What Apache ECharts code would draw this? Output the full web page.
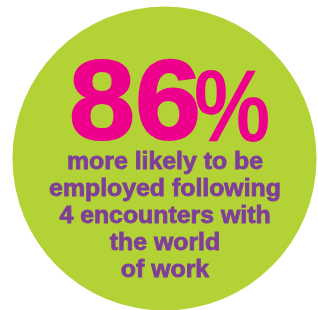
<!DOCTYPE html>
<html>
<head>
<meta charset="utf-8">
<script src="https://cdn.jsdelivr.net/npm/echarts@6/dist/echarts.min.js"></script>
<style>
html,body{margin:0;padding:0;background:#fff;}
#c{width:318px;height:310px;}
</style>
</head>
<body>
<div id="c"></div>
<script>
// Data
var statValue = '86';
var statUnit = '%';
var captionLines = ['more likely to be', 'employed following', '4 encounters with', 'the world', 'of work'];
var circleData = [{ name: 'stat', value: 86 }];

var lime = '#b2d235';
var magenta = '#ec008c';
var purple = '#7f3f98';
var font = '"Liberation Sans", Arial, sans-serif';

var chart = echarts.init(document.getElementById('c'), null, { renderer: 'canvas' });

var graphics = [
  {
    type: 'text', x: 69, y: 108, z: 10, scaleX: 1.05,
    style: { text: statValue, fill: magenta, stroke: magenta, lineWidth: 2, font: 'bold 113px ' + font, textAlign: 'left', textVerticalAlign: 'middle' }
  },
  {
    type: 'text', x: 194, y: 113, z: 10, scaleX: 0.84,
    style: { text: statUnit, fill: magenta, font: 'bold 102px ' + font, textAlign: 'left', textVerticalAlign: 'middle' }
  }
];
var lineY0 = 163, lineGap = 27;
captionLines.forEach(function (t, i) {
  var y = lineY0 + i * lineGap;
  graphics.push({
    type: 'text', x: 165, y: y, z: 10, scaleX: 1.08,
    style: { text: t, fill: purple, stroke: purple, lineWidth: 0.8, font: 'bold 23px ' + font, textAlign: 'center', textVerticalAlign: 'middle' }
  });
});

chart.setOption({
  animation: false,
  series: [{
    type: 'pie',
    center: [164.5, 158.5],
    radius: [0, 152],
    silent: true,
    label: { show: false },
    labelLine: { show: false },
    itemStyle: { color: lime, borderWidth: 0 },
    data: circleData
  }],
  graphic: graphics
});
</script>
</body>
</html>
